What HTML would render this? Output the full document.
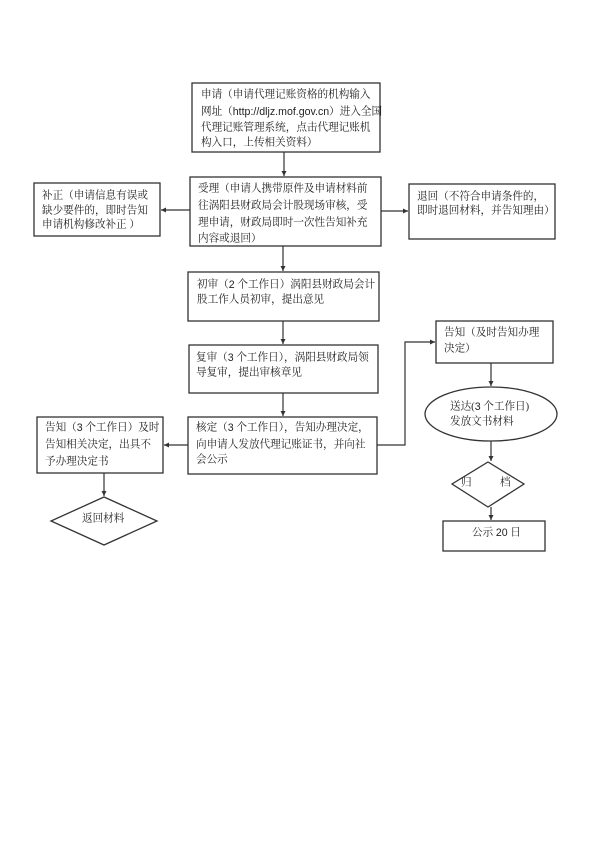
<!DOCTYPE html>
<html><head><meta charset="utf-8"><style>
html,body{margin:0;padding:0;background:#fff;}
svg{display:block;}
text{font-family:"Liberation Serif","Noto Serif CJK SC",serif;font-size:10.6px;fill:#222;dominant-baseline:central;}
.b{fill:#fff;stroke:#333;stroke-width:1.3;}
.l{stroke:#333;stroke-width:1.2;fill:none;}
</style></head><body>
<svg width="600" height="848" viewBox="0 0 600 848" xmlns="http://www.w3.org/2000/svg">
<defs><marker id="a" markerWidth="6" markerHeight="6" refX="5" refY="3" orient="auto" markerUnits="userSpaceOnUse"><path d="M0,0.5 L5,3 L0,5.5z" fill="#333"/></marker></defs>

<!-- connectors -->
<line class="l" x1="284" y1="152" x2="284" y2="176" marker-end="url(#a)"/>
<line class="l" x1="190" y1="210" x2="161" y2="210" marker-end="url(#a)"/>
<line class="l" x1="381" y1="211" x2="408" y2="211" marker-end="url(#a)"/>
<line class="l" x1="283" y1="246" x2="283" y2="271" marker-end="url(#a)"/>
<line class="l" x1="283" y1="321" x2="283" y2="344" marker-end="url(#a)"/>
<line class="l" x1="283" y1="393" x2="283" y2="416" marker-end="url(#a)"/>
<line class="l" x1="188" y1="445" x2="164" y2="445" marker-end="url(#a)"/>
<line class="l" x1="104" y1="473" x2="104" y2="496" marker-end="url(#a)"/>
<polyline class="l" points="377,445 405,445 405,342 435,342" marker-end="url(#a)"/>
<line class="l" x1="491" y1="363" x2="491" y2="386" marker-end="url(#a)"/>
<line class="l" x1="491" y1="441" x2="491" y2="461" marker-end="url(#a)"/>
<line class="l" x1="491" y1="507" x2="491" y2="520" marker-end="url(#a)"/>

<!-- boxes -->
<rect class="b" x="192" y="83" width="188" height="69"/>
<text x="201" y="95">申请（申请代理记账资格的机构输入</text>
<text x="201" y="112">网址（<tspan font-family="Liberation Sans">http://dljz.mof.gov.cn</tspan>）进入全国</text>
<text x="201" y="128">代理记账管理系统，点击代理记账机</text>
<text x="201" y="143">构入口，上传相关资料）</text>

<rect class="b" x="190" y="177" width="191" height="69"/>
<text x="198" y="189">受理（申请人携带原件及申请材料前</text>
<text x="198" y="206">往涡阳县财政局会计股现场审核，受</text>
<text x="198" y="223">理申请，财政局即时一次性告知补充</text>
<text x="198" y="239">内容或退回）</text>

<rect class="b" x="34" y="183" width="126" height="53"/>
<text x="42" y="196">补正（申请信息有误或</text>
<text x="42" y="211">缺少要件的，即时告知</text>
<text x="42" y="225">申请机构修改补正 ）</text>

<rect class="b" x="409" y="184" width="146" height="55"/>
<text x="417" y="197">退回（不符合申请条件的，</text>
<text x="417" y="211">即时退回材料，并告知理由）</text>

<rect class="b" x="188" y="272" width="191" height="49"/>
<text x="197" y="285">初审（<tspan font-family="Liberation Sans">2</tspan> 个工作日）涡阳县财政局会计</text>
<text x="197" y="300">股工作人员初审，提出意见</text>

<rect class="b" x="189" y="345" width="189" height="48"/>
<text x="196" y="358">复审（<tspan font-family="Liberation Sans">3</tspan> 个工作日），涡阳县财政局领</text>
<text x="196" y="373">导复审，提出审核章见</text>

<rect class="b" x="188" y="417" width="189" height="57"/>
<text x="196" y="428">核定（<tspan font-family="Liberation Sans">3</tspan> 个工作日），告知办理决定，</text>
<text x="196" y="445">向申请人发放代理记账证书，并向社</text>
<text x="196" y="460">会公示</text>

<rect class="b" x="37" y="417" width="126" height="56"/>
<text x="45" y="428">告知（<tspan font-family="Liberation Sans">3</tspan> 个工作日）及时</text>
<text x="45" y="445">告知相关决定，出具不</text>
<text x="45" y="462">予办理决定书</text>

<polygon class="b" points="104,497 157,521 104,545 51,521"/>
<text x="82" y="519">返回材料</text>

<rect class="b" x="436" y="321" width="117" height="42"/>
<text x="444" y="333">告知（及时告知办理</text>
<text x="444" y="349">决定）</text>

<ellipse class="b" cx="491" cy="414" rx="66" ry="27"/>
<text x="450" y="407">送达(<tspan font-family="Liberation Sans">3</tspan> 个工作日)</text>
<text x="450" y="422">发放文书材料</text>

<polygon class="b" points="488,462 524,484 488,507 452,484"/>
<text x="461" y="483">归</text>
<text x="500" y="483">档</text>

<rect class="b" x="443" y="521" width="102" height="30"/>
<text x="472" y="533">公示 <tspan font-family="Liberation Sans">20</tspan> 日</text>
</svg>
</body></html>
